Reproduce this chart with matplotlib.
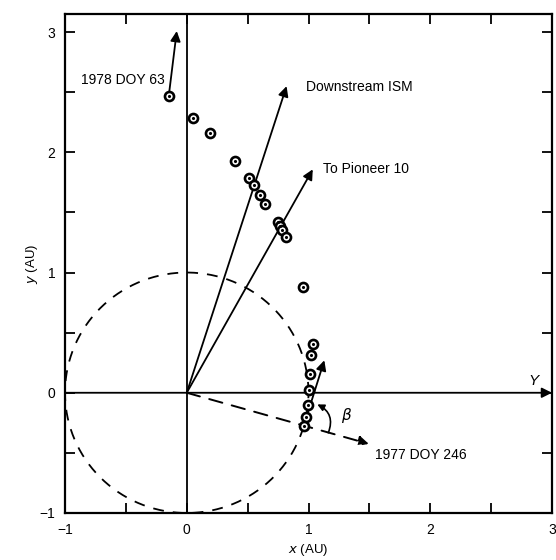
import numpy as np
import matplotlib
matplotlib.use("Agg")
import matplotlib.pyplot as plt
from matplotlib.patches import FancyArrowPatch

plt.rcParams['font.family'] = ['Liberation Sans', 'DejaVu Sans']

# Spacecraft positions (AU)
pos_x = [-0.148, 0.049, 0.189, 0.394, 0.509, 0.550, 0.600, 0.641, 0.747, 0.764,
         0.780, 0.813, 0.953, 1.035, 1.018, 1.010, 1.002, 0.994, 0.977, 0.961]
pos_y = [2.467, 2.283, 2.158, 1.925, 1.783, 1.725, 1.642, 1.567, 1.417, 1.383,
         1.350, 1.292, 0.883, 0.408, 0.317, 0.158, 0.025, -0.100, -0.200, -0.275]

# Direction vectors (tips, AU)
ism_tip = (0.82, 2.55)
pioneer_tip = (1.035, 1.858)
doy246_tip = (1.495, -0.425)
start_vertex = (0.961, -0.275)
start_tip = (1.13, 0.27)
end_tip = (-0.082, 3.008)

labels = ["Downstream ISM", "To Pioneer 10", "1977 DOY 246", "1978 DOY 63"]

fig = plt.figure(figsize=(5.56, 5.60), dpi=100)
ax = fig.add_axes([65/556, 1-513/560, (552-65)/556, (513-14)/560])
ax.set_xlim(-1, 3)
ax.set_ylim(-1, 3.15)

for s in ax.spines.values():
    s.set_linewidth(1.6)

ax.set_xticks([-1, 0, 1, 2, 3])
ax.set_yticks([-1, 0, 1, 2, 3])
ax.set_xticks(np.arange(-1, 3.01, 0.5), minor=True)
ax.set_yticks(np.arange(-1, 3.01, 0.5), minor=True)
ax.tick_params(which='both', direction='in', top=True, right=True, length=7, width=1.3,
               labelsize=10, pad=7)

ax.set_xlabel(r'$x$ (AU)', fontsize=9.5, labelpad=4)
ax.set_ylabel(r'$y$ (AU)', fontsize=9.5, labelpad=0)

ak = dict(arrowstyle='-|>', mutation_scale=15, lw=1.3, color='black', shrinkA=0, shrinkB=0)

# axes through the origin
ax.plot([0, 0], [-1, 3.15], color='black', lw=1.3)
ax.annotate('', xy=(3.0, 0), xytext=(-1, 0), arrowprops=ak)
ax.text(2.85, 0.1, 'Υ', fontsize=11, style='italic', ha='center', va='center')

# Earth orbit
t = np.linspace(0, 2*np.pi, 400)
ax.plot(np.cos(t), np.sin(t), color='black', lw=1.3, dashes=(6, 5))

# direction arrows
ax.annotate('', xy=ism_tip, xytext=(0, 0), arrowprops=ak)
ax.annotate('', xy=pioneer_tip, xytext=(0, 0), arrowprops=ak)
ax.add_patch(FancyArrowPatch((0, 0), doy246_tip, arrowstyle='-|>', mutation_scale=15,
                             lw=1.4, color='black', linestyle=(0, (7, 5)),
                             shrinkA=0, shrinkB=0))
ax.annotate('', xy=start_tip, xytext=start_vertex, arrowprops=ak)
ax.annotate('', xy=end_tip, xytext=(pos_x[0], pos_y[0]), arrowprops=ak)

# beta angle arc
r = 0.21
a1, a2 = np.deg2rad(-16), np.deg2rad(58)
pA = (start_vertex[0] + r*np.cos(a1), start_vertex[1] + r*np.sin(a1))
pB = (start_vertex[0] + r*np.cos(a2), start_vertex[1] + r*np.sin(a2))
ax.add_patch(FancyArrowPatch(pA, pB, arrowstyle='-|>', mutation_scale=10, lw=1.2,
                             color='black', connectionstyle='arc3,rad=0.45',
                             shrinkA=0, shrinkB=0))
ax.text(1.31, -0.19, r'$\beta$', fontsize=11, ha='center', va='center')

# labels
ax.text(0.98, 2.545, labels[0], fontsize=10, ha='left', va='center')
ax.text(1.117, 1.858, labels[1], fontsize=10, ha='left', va='center')
ax.text(1.55, -0.52, labels[2], fontsize=10, ha='left', va='center')
ax.text(-0.18, 2.60, labels[3], fontsize=10, ha='right', va='center')

# positions
ax.plot(pos_x, pos_y, 'o', ms=6.5, mfc='white', mec='black', mew=1.9, zorder=5)
ax.plot(pos_x, pos_y, '.', ms=2.5, color='black', zorder=6)

fig.savefig('out.png', dpi=100)
